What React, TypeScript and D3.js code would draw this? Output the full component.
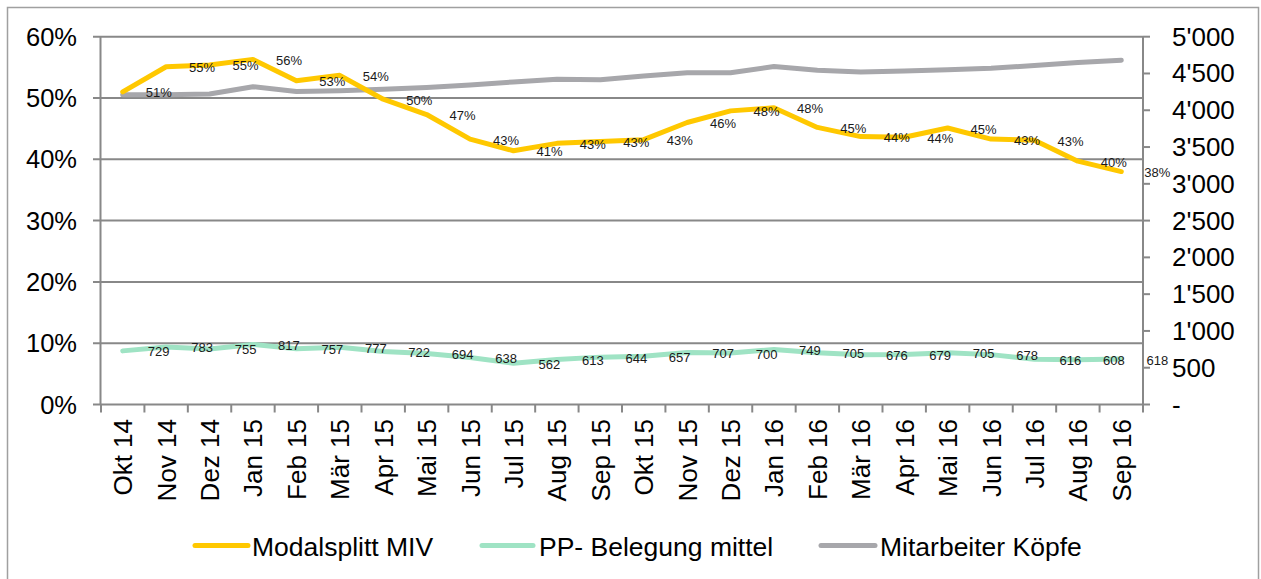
import React from "react";
import * as d3 from "d3";

const months = ["Okt 14","Nov 14","Dez 14","Jan 15","Feb 15","Mär 15","Apr 15","Mai 15","Jun 15","Jul 15","Aug 15","Sep 15","Okt 15","Nov 15","Dez 15","Jan 16","Feb 16","Mär 16","Apr 16","Mai 16","Jun 16","Jul 16","Aug 16","Sep 16"];
const modalsplitt = [51.0,55.1,55.4,56.3,52.8,53.7,49.8,47.3,43.3,41.4,42.6,42.9,43.2,46.0,47.9,48.4,45.2,43.7,43.6,45.1,43.3,43.1,39.7,38.0];
const ppBelegung = [729,783,755,817,757,777,722,694,638,562,613,644,657,707,700,749,705,676,679,705,678,616,608,618];
const mitarbeiter = [4210,4210,4220,4320,4255,4265,4285,4310,4345,4385,4420,4415,4465,4510,4510,4595,4545,4520,4535,4550,4570,4610,4650,4680];
const leftTicks = [0,10,20,30,40,50,60];
const rightTicks = [0,500,1000,1500,2000,2500,3000,3500,4000,4500,5000];
const legendItems = ["Modalsplitt MIV","PP- Belegung mittel","Mitarbeiter Köpfe"];

const YELLOW = "#FFC800";
const GREEN = "#9FE3C4";
const GRAY = "#A7A7AB";
const AXIS = "#888888";
const FONT = "'Liberation Sans', Arial, sans-serif";

export default function App() {
  const W = 1261, H = 579;
  const x0 = 101, x1 = 1143, yTop = 36.7, yBot = 404.5;
  const x = d3.scaleBand<string>().domain(months).range([x0, x1]);
  const cx = (i: number) => (x(months[i]) as number) + x.bandwidth() / 2;
  const yL = d3.scaleLinear().domain([0, 60]).range([yBot, yTop]);
  const yR = d3.scaleLinear().domain([0, 5000]).range([yBot, yTop]);

  const lineL = d3.line<number>().x((_, i) => cx(i)).y(v => yL(v));
  const lineR = d3.line<number>().x((_, i) => cx(i)).y(v => yR(v));
  const fmtR = (v: number) => (v === 0 ? "-" : d3.format(",")(v).replace(/,/g, "'"));

  const legendSw = [[195, 248, 252], [482, 533, 539], [821, 875, 880]];
  const legendColors = [YELLOW, GREEN, GRAY];

  return (
    <svg width={W} height={H} style={{ position: "absolute", left: 0, top: 0, background: "#fff" }} fontFamily={FONT}>
      <rect x={7.5} y={7.5} width={1251} height={600} fill="#fff" stroke="#A0A0A0" strokeWidth={1.5} />
      {leftTicks.map(t => (
        <g key={"g" + t}>
          <line x1={x0 - 8} x2={x1} y1={yL(t)} y2={yL(t)} stroke={AXIS} strokeWidth={2} />
          <text x={77} y={yL(t) + 9} textAnchor="end" fontSize={25.5} fill="#000">{t + "%"}</text>
        </g>
      ))}
      <line x1={x0 - 0.5} x2={x0 - 0.5} y1={yTop} y2={yBot} stroke={AXIS} strokeWidth={2} />
      <line x1={x1} x2={x1} y1={yTop} y2={yBot + 8} stroke={AXIS} strokeWidth={2} />
      {rightTicks.map(t => (
        <g key={"r" + t}>
          <line x1={x1} x2={x1 + 7} y1={yR(t)} y2={yR(t)} stroke={AXIS} strokeWidth={2} />
          <text x={1172} y={yR(t) + 9} textAnchor="start" fontSize={26} fill="#000">{fmtR(t)}</text>
        </g>
      ))}
      {months.map((m) => (
        <line key={"xt" + m} x1={x(m) as number} x2={x(m) as number} y1={yBot} y2={yBot + 8} stroke={AXIS} strokeWidth={2} />
      ))}
      {months.map((m, i) => (
        <text key={"xl" + m} transform={`translate(${cx(i) + 9.5},${419}) rotate(-90)`} textAnchor="end" fontSize={26} fill="#000">{m}</text>
      ))}
      <path d={lineR(ppBelegung) || ""} fill="none" stroke={GREEN} strokeWidth={5} strokeLinejoin="round" strokeLinecap="round" />
      <path d={lineR(mitarbeiter) || ""} fill="none" stroke={GRAY} strokeWidth={5} strokeLinejoin="round" strokeLinecap="round" />
      <path d={lineL(modalsplitt) || ""} fill="none" stroke={YELLOW} strokeWidth={5} strokeLinejoin="round" strokeLinecap="round" />
      {modalsplitt.map((v, i) => (
        <text key={"ml" + i} x={cx(i) + 36} y={yL(v) + 5.5} textAnchor="middle" fontSize={13} fill="#1a1a1a">{Math.round(v) + "%"}</text>
      ))}
      {ppBelegung.map((v, i) => (
        <text key={"pl" + i} x={cx(i) + 36} y={yR(v) + 5.5} textAnchor="middle" fontSize={13} fill="#1a1a1a">{v}</text>
      ))}
      {legendItems.map((name, i) => (
        <g key={"lg" + i}>
          <line x1={legendSw[i][0]} x2={legendSw[i][1]} y1={545.5} y2={545.5} stroke={legendColors[i]} strokeWidth={5} strokeLinecap="round" />
          <text x={legendSw[i][2]} y={555.5} fontSize={26.5} fill="#000">{name}</text>
        </g>
      ))}
    </svg>
  );
}
